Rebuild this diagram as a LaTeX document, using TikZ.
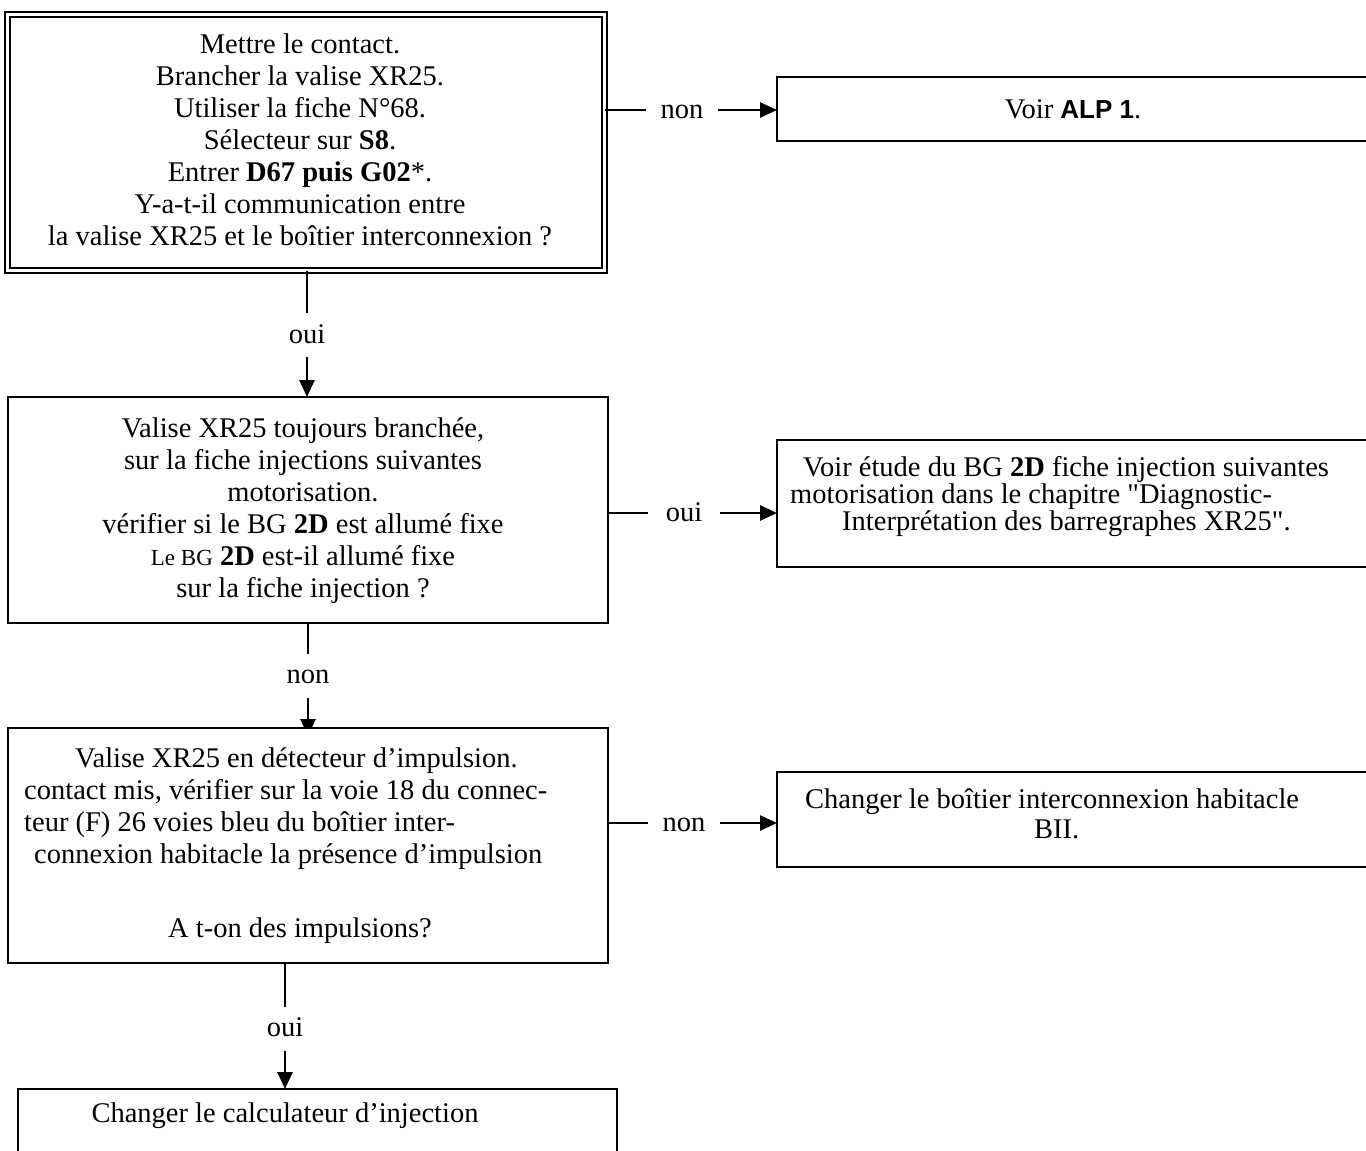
\documentclass[tikz,border=0pt]{standalone}
\usepackage{fontspec}
\setmainfont{Liberation Serif}[Ligatures=TeXOff]
\newfontfamily\arialf{Liberation Sans}
\usetikzlibrary{arrows.meta,calc,backgrounds}
\begin{document}
\begin{tikzpicture}[x=1pt,y=-1pt,
  font=\fontsize{28.5}{32}\selectfont,
  box/.style={draw, line width=2.8pt, fill=white, inner sep=0pt, outer sep=0pt},
  dbox/.style={draw, line width=2pt, double, double distance=3pt, fill=white, inner sep=0pt, outer sep=0pt},
  lbl/.style={minimum width=72pt, minimum height=44pt, inner sep=0pt, outer sep=0pt, text height=16pt, text depth=0pt},
  conn/.style={line width=2.6pt},
  arr/.style={conn, -{Triangle[length=17pt,width=15pt]}},
  ln/.style={inner sep=0pt, anchor=base},
  lnw/.style={inner sep=0pt, anchor=base west},
]
\useasboundingbox (0,0) rectangle (1366,1151);

% boxes
\node[dbox, minimum width=597, minimum height=256] (b1) at (306,142.5) {};
\node[box, minimum width=595, minimum height=64] (rb1) at (1074.5,109) {};
\node[box, minimum width=600, minimum height=226] (b2) at (308,510) {};
\node[box, minimum width=595, minimum height=127] (rb2) at (1074.5,503.5) {};
\node[box, minimum width=600, minimum height=235] (b3) at (308,845.5) {};
\node[box, minimum width=595, minimum height=95] (rb3) at (1074.5,819.5) {};
\node[box, minimum width=599, minimum height=81] (b4) at (317.5,1129.5) {};

% connector labels
\node[lbl] (h1) at (682,110) {non};
\node[lbl] (h2) at (684,513) {oui};
\node[lbl] (h3) at (684,823) {non};
\node[lbl] (v1) at (307,335) {oui};
\node[lbl] (v2) at (308,675.5) {non};
\node[lbl] (v3) at (285,1028.5) {oui};

% connectors
\draw[conn] (b1.east |- h1) -- (h1.west);
\draw[arr] (h1.east) -- (rb1.west |- h1);
\draw[conn] (b2.east |- h2) -- (h2.west);
\draw[arr] (h2.east) -- (rb2.west |- h2);
\draw[conn] (b3.east |- h3) -- (h3.west);
\draw[arr] (h3.east) -- (rb3.west |- h3);
\draw[conn] (b1.south -| v1) -- (v1.north);
\draw[arr] (v1.south) -- (b2.north -| v1);
\draw[conn] (b2.south -| v2) -- (v2.north);
\begin{scope}[on background layer]
\draw[arr] (v2.south) -- ($(b3.north -| v2)+(0,8)$);
\end{scope}
\draw[conn] (b3.south -| v3) -- (v3.north);
\draw[arr] (v3.south) -- (b4.north -| v3);

% box 1 text
\foreach \t [count=\i] in {{Mettre le contact.},{Brancher la valise XR25.},{Utiliser la fiche N°68.},{Sélecteur sur \textbf{S8}.},{Entrer \textbf{D67 puis G02}*.},{Y-a-t-il communication entre},{la valise XR25 et le boîtier interconnexion ?}}
  \node[ln] (b1t\i) at (300,21+32*\i) {\t};

% box 2 text
\foreach \t [count=\i] in {{Valise XR25 toujours branchée,},{sur la fiche injections suivantes},{motorisation.},{vérifier si le BG \textbf{2D} est allumé fixe},{{\fontsize{23}{32}\selectfont Le BG} \textbf{2D} est-il allumé fixe},{sur la fiche injection ?}}
  \node[ln] (b2t\i) at (303,405+32*\i) {\t};

% right box 1
\node[ln] (rb1t) at (1073,118) {Voir {\arialf\bfseries\fontsize{26}{32}\selectfont ALP 1}.};

% right box 2
\node[lnw] (rb2a) at (803,476) {Voir étude du BG \textbf{2D} fiche injection suivantes};
\node[lnw] (rb2b) at (790,503) {motorisation dans le chapitre "Diagnostic-};
\node[lnw] (rb2c) at (842,530) {Interprétation des barregraphes XR25".};

% box 3 text
\node[lnw] (b3a) at (75,767) {Valise XR25 en détecteur d’impulsion.};
\node[lnw] (b3b) at (24,799) {contact mis, vérifier sur la voie 18 du connec-};
\node[lnw] (b3c) at (24,831) {teur (F) 26 voies bleu du boîtier inter-};
\node[lnw] (b3d) at (34,863) {connexion habitacle la présence d’impulsion};
\node[lnw] (b3e) at (168,937) {A t-on des impulsions?};

% right box 3
\node[lnw] (rb3a) at (805,808) {Changer le boîtier interconnexion habitacle};
\node[lnw] (rb3b) at (1034,838) {BII.};

% box 4
\node[ln] (b4t) at (285,1122) {Changer le calculateur d’injection};
\end{tikzpicture}
\end{document}
